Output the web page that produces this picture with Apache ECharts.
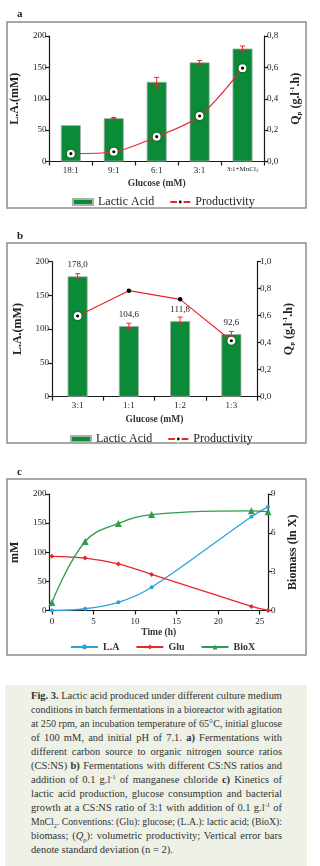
<!DOCTYPE html>
<html><head><meta charset="utf-8">
<script src="https://cdn.jsdelivr.net/npm/echarts@6/dist/echarts.min.js"></script>
<style>
html,body{margin:0;padding:0;background:#fff;width:320px;height:866px;overflow:hidden;}
#chart{position:absolute;left:0;top:0;width:320px;height:866px;}
#cap{position:absolute;left:5px;top:685px;width:302px;height:181px;background:#eef1e6;}
.ln{position:absolute;left:26px;white-space:nowrap;font-family:'Liberation Serif','DejaVu Serif','Times New Roman',serif;font-size:10.5px;line-height:14px;color:#333;transform-origin:0 0;}
.ln sup,.ln sub{font-size:6.5px;line-height:0;}
</style></head><body>
<div id="chart"></div>
<div id="cap"></div>
<script>
// ---- Panel a ----
const catA = ['18:1', '9:1', '6:1', '3:1', '3:1+MnCl₂'];
const laA = [58, 69, 127, 158, 180];
const laAErr = [0, 1, 7, 3, 4];
const qpA = [0.05, 0.062, 0.158, 0.29, 0.595];
// ---- Panel b ----
const catB = ['3:1', '1:1', '1:2', '1:3'];
const laB = [178.0, 104.6, 111.8, 92.6];
const laBErr = [4, 4, 6, 4];
const qpB = [0.597, 0.784, 0.72, 0.414];
const qpBRing = [true, false, false, true];
// ---- Panel c ----
const timeC = [0, 4, 8, 12, 24, 26];
const laC = [0, 3, 14, 40, 161, 178];
const gluC = [93, 90, 80, 62, 7, 0];
const bioC = [0.62, 5.33, 6.73, 7.41, 7.7, 7.63];
const timeTicksC = [0, 5, 10, 15, 20, 25];
// ---- legends / names ----
const legendAB = ['Lactic Acid', 'Productivity'];
const legendC = ['L.A', 'Glu', 'BioX'];
const captionLines = [
  '<b>Fig. 3.</b> Lactic acid produced under different culture medium',
  'conditions in batch fermentations in a bioreactor with agitation',
  'at 250 rpm, an incubation temperature of 65°C, initial glucose',
  'of 100 mM, and initial pH of 7.1. <b>a)</b> Fermentations with',
  'different carbon source to organic nitrogen source ratios',
  '(CS:NS) <b>b)</b> Fermentations with different CS:NS ratios and',
  'addition of 0.1 g.l<sup>-1</sup> of manganese chloride <b>c)</b> Kinetics of',
  'lactic acid production, glucose consumption and bacterial',
  'growth at a CS:NS ratio of 3:1 with addition of 0.1 g.l<sup>-1</sup> of',
  'MnCl<sub>2</sub>. Conventions: (Glu): glucose; (L.A.): lactic acid; (BioX):',
  'biomass; (<i>Q</i><sub>p</sub>): volumetric productivity; Vertical error bars',
  'denote standard deviation (n = 2).'
];

const F = "'Liberation Serif', 'DejaVu Serif', 'Times New Roman', serif";
const BLACK = '#1a1a1a';
const GREEN_BAR = '#0b8a37';
const RED = '#e8262b';
const BLUE = '#2aa2de';
const GREEN_LINE = '#2f9b4b';

const nameStyle = {
  fontFamily: F, fontSize: 12, fontWeight: 'bold', color: '#222', lineHeight: 14,
  rich: {
    sub: {fontFamily: F, fontSize: 7, fontWeight: 'bold', lineHeight: 7, verticalAlign: 'bottom', color: '#222'},
    sup: {fontFamily: F, fontSize: 7, fontWeight: 'bold', lineHeight: 7, verticalAlign: 'top', color: '#222'}
  }
};
const comma = v => v.toFixed(1).replace('.', ',');

function axisBase(extra) {
  return Object.assign({
    splitLine: {show: false},
    axisLine: {show: true, onZero: false, lineStyle: {color: BLACK, width: 1.2}},
    axisTick: {show: true, length: 4, lineStyle: {color: BLACK, width: 1.2}},
  }, extra);
}
function yAxis(grid, pos, min, max, interval, name, gap, fmt) {
  return axisBase({
    type: 'value', gridIndex: grid, position: pos, min, max, interval,
    name, nameLocation: 'middle', nameRotate: 90, nameGap: gap, nameTextStyle: nameStyle,
    axisLabel: {fontFamily: F, fontSize: 9, color: '#222', margin: 3, formatter: fmt}
  });
}
function catAxis(grid, data, margin, name, gap, fmt) {
  return axisBase({
    type: 'category', gridIndex: grid, data,
    name, nameLocation: 'middle', nameGap: gap,
    nameTextStyle: {fontFamily: F, fontSize: 9.5, fontWeight: 'bold', color: '#333'},
    axisLabel: {interval: 0, fontFamily: F, fontSize: 9, color: '#222', margin, formatter: fmt,
      rich: {m: {fontFamily: F, fontSize: 7, color: '#222'}, s: {fontFamily: F, fontSize: 5, color: '#222', verticalAlign: 'bottom', lineHeight: 5}}}
  });
}
function errSeries(xi, yi, vals, errs) {
  return {
    type: 'custom', xAxisIndex: xi, yAxisIndex: yi, z: 6, silent: true,
    data: vals.map((v, i) => [i, v - errs[i], v + errs[i], errs[i]]),
    renderItem(params, api) {
      if (!api.value(3)) return null;
      const lo = api.coord([api.value(0), api.value(1)]);
      const hi = api.coord([api.value(0), api.value(2)]);
      const w = 2.5, st = {stroke: RED, lineWidth: 1};
      return {type: 'group', children: [
        {type: 'line', shape: {x1: lo[0], y1: lo[1], x2: hi[0], y2: hi[1]}, style: st},
        {type: 'line', shape: {x1: lo[0] - w, y1: lo[1], x2: lo[0] + w, y2: lo[1]}, style: st},
        {type: 'line', shape: {x1: hi[0] - w, y1: hi[1], x2: hi[0] + w, y2: hi[1]}, style: st}
      ]};
    }
  };
}
const ringStyle = {color: '#000', borderColor: '#fff', borderWidth: 2.4, shadowColor: 'rgba(0,0,0,0.75)', shadowBlur: 1.5};
const barStyle = {color: GREEN_BAR, borderColor: '#a7b0a9', borderWidth: 0.8};

const chart = echarts.init(document.getElementById('chart'), null, {renderer: 'canvas'});
const legendText = {fontFamily: F, fontSize: 12, color: '#222'};

chart.setOption({
  animation: false,
  grid: [
    {left: 49, top: 36, width: 215, height: 125.5},
    {left: 52, top: 261.5, width: 205, height: 135.2},
    {left: 42, top: 494, width: 226, height: 116.5}
  ],
  xAxis: [
    catAxis(0, catA, 4.5, 'Glucose (mM)', 17, v => v.includes('₂') ? '{m|' + v.replace('₂', '') + '}{s|2}' : v),
    catAxis(1, catB, 4.5, 'Glucose (mM)', 18),
    axisBase({
      type: 'value', gridIndex: 2, min: -0.3, max: 26,
      name: 'Time (h)', nameLocation: 'middle', nameGap: 16,
      nameTextStyle: {fontFamily: F, fontSize: 9.5, fontWeight: 'bold', color: '#333'},
      axisTick: {show: true, length: 4, customValues: timeTicksC, lineStyle: {color: BLACK, width: 1.2}},
      axisLabel: {fontFamily: F, fontSize: 9, color: '#222', margin: 7, customValues: timeTicksC}
    })
  ],
  yAxis: [
    yAxis(0, 'left', 0, 200, 50, 'L.A.(mM)', 25),
    yAxis(0, 'right', 0, 0.8, 0.2, 'Q{sub|p} (g.l{sup|-1}.h)', 24, comma),
    yAxis(1, 'left', 0, 200, 50, 'L.A.(mM)', 24),
    yAxis(1, 'right', 0, 1.0, 0.2, 'Q{sub|p} (g.l{sup|-1}.h)', 24, comma),
    yAxis(2, 'left', 0, 200, 50, 'mM', 20),
    yAxis(2, 'right', 0, 9, 3, 'Biomass (ln X)', 14)
  ],
  legend: [
    {left: 67, top: 191, itemWidth: 20, itemHeight: 6, itemGap: 15, textStyle: legendText,
      data: [{name: legendAB[0], icon: 'rect'}, legendAB[1]]},
    {left: 65, top: 428, itemWidth: 20, itemHeight: 6, itemGap: 15, textStyle: legendText,
      data: [{name: legendAB[0], icon: 'rect'}, legendAB[1]]},
    {left: 65, top: 637, itemWidth: 27, itemHeight: 6, itemGap: 16,
      textStyle: {fontFamily: F, fontSize: 10, fontWeight: 'bold', color: '#333'},
      data: legendC}
  ],
  graphic: [
    {type: 'rect', shape: {x: 7, y: 22, width: 299, height: 186}, style: {fill: 'none', stroke: '#8c8c8c', lineWidth: 1.5}},
    {type: 'rect', shape: {x: 7, y: 243, width: 299, height: 200}, style: {fill: 'none', stroke: '#8c8c8c', lineWidth: 1.5}},
    {type: 'rect', shape: {x: 7, y: 479, width: 299, height: 176}, style: {fill: 'none', stroke: '#8c8c8c', lineWidth: 1.5}},
    {type: 'text', x: 17, y: 9, style: {text: 'a', fontFamily: F, fontWeight: 'bold', fontSize: 11, fill: '#222'}},
    {type: 'text', x: 17, y: 231, style: {text: 'b', fontFamily: F, fontWeight: 'bold', fontSize: 11, fill: '#222'}},
    {type: 'text', x: 17, y: 467, style: {text: 'c', fontFamily: F, fontWeight: 'bold', fontSize: 11, fill: '#222'}}
  ],
  series: [
    {name: 'Lactic Acid', type: 'bar', xAxisIndex: 0, yAxisIndex: 0, data: laA, barWidth: 20, itemStyle: barStyle},
    errSeries(0, 0, laA, laAErr),
    {name: 'Productivity', type: 'line', xAxisIndex: 0, yAxisIndex: 1, data: qpA, smooth: 0.3, z: 8,
      lineStyle: {color: RED, width: 1.2}, symbol: 'circle', symbolSize: 5.5, itemStyle: ringStyle},

    {name: 'Lactic Acid', type: 'bar', xAxisIndex: 1, yAxisIndex: 2, data: laB, barWidth: 20, itemStyle: barStyle,
      label: {show: true, position: 'top', distance: 7, fontFamily: F, fontSize: 9, color: '#222', formatter: p => comma(p.value)}},
    errSeries(1, 2, laB, laBErr),
    {name: 'Productivity', type: 'line', xAxisIndex: 1, yAxisIndex: 3, z: 8,
      data: qpB.map((v, i) => qpBRing[i] ? {value: v} : {value: v, symbolSize: 4.5, itemStyle: {borderWidth: 0, shadowBlur: 0}}),
      lineStyle: {color: RED, width: 1.2}, symbol: 'circle', symbolSize: 5.5, itemStyle: ringStyle},

    {name: 'L.A', type: 'line', xAxisIndex: 2, yAxisIndex: 4, smooth: 0.35,
      data: timeC.map((t, i) => [t, laC[i]]), symbol: 'circle', symbolSize: 4,
      lineStyle: {color: BLUE, width: 1.3}, itemStyle: {color: BLUE}},
    {name: 'Glu', type: 'line', xAxisIndex: 2, yAxisIndex: 4, smooth: 0.3,
      data: timeC.map((t, i) => [t, gluC[i]]), symbol: 'diamond', symbolSize: 5,
      lineStyle: {color: RED, width: 1.3}, itemStyle: {color: RED}},
    {name: 'BioX', type: 'line', xAxisIndex: 2, yAxisIndex: 5, smooth: 0.4,
      data: timeC.map((t, i) => [t, bioC[i]]), symbol: 'triangle', symbolSize: 7,
      lineStyle: {color: GREEN_LINE, width: 1.3}, itemStyle: {color: GREEN_LINE}}
  ]
});

// caption, justified line by line
const cap = document.getElementById('cap');
const target = 251;
captionLines.forEach((html, i) => {
  const d = document.createElement('div');
  d.className = 'ln';
  d.style.top = (4 + 14 * i) + 'px';
  d.innerHTML = html;
  cap.appendChild(d);
  if (i < captionLines.length - 1) {
    const w = d.getBoundingClientRect().width;
    if (w > target) {
      d.style.transform = 'scaleX(' + (target / w) + ')';
    } else {
      const n = (d.textContent.match(/ /g) || []).length;
      if (n) d.style.wordSpacing = ((target - w) / n) + 'px';
    }
  }
});
</script>
</body></html>
